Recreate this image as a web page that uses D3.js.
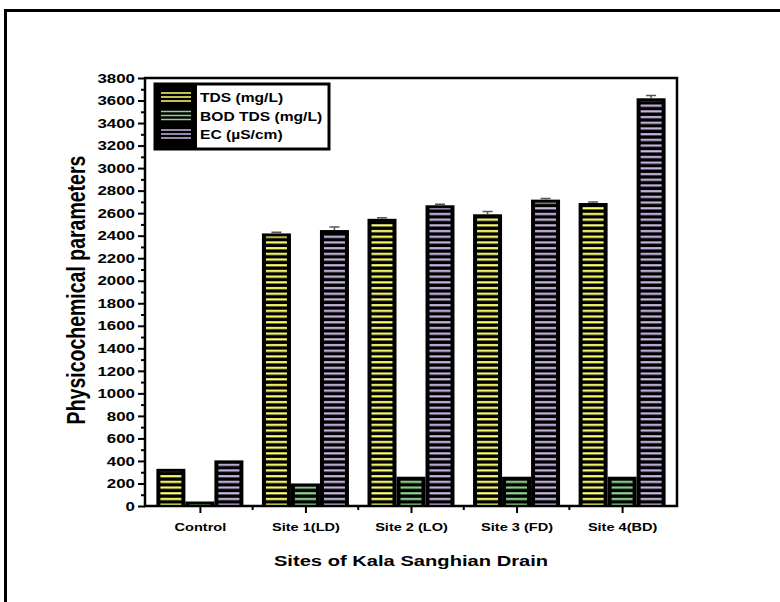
<!DOCTYPE html>
<html>
<head>
<meta charset="utf-8">
<script src="https://cdn.jsdelivr.net/npm/d3@7"></script>
<style>
  body { margin: 0; background: #fff; }
  text { font-family: Arial, "Liberation Sans", sans-serif; font-weight: bold; }
</style>
</head>
<body>
<div id="chart"></div>
<script>
// data
const sites = ["Control", "Site 1(LD)", "Site 2 (LO)", "Site 3 (FD)", "Site 4(BD)"]
const seriesNames = ["TDS (mg/L)", "BOD TDS (mg/L)", "EC (\u00b5S/cm)"]
const tds = [330, 2420, 2550, 2590, 2690]
const bod = [40, 200, 260, 260, 260]
const ec = [405, 2450, 2670, 2720, 3620]
const tdsErr = [0, 10, 10, 25, 10]
const bodErr = [0, 0, 0, 0, 0]
const ecErr = [0, 28, 10, 10, 25]
const yTicks = d3.range(0, 3801, 200)

const colors = ["#ffff70", "#8fd18f", "#c7b6e2"]

const width = 780, height = 602
const margin = { top: 78, right: 103, bottom: 96, left: 145 }
const sx = 1.3 // the figure's text looks stretched sideways

const svg = d3.select("#chart").append("svg")
    .attr("width", width)
    .attr("height", height)

// outer frame of the figure
svg.append("path")
    .attr("d", `M5.5,${height} V10.5 H${width}`)
    .attr("fill", "none")
    .attr("stroke", "#000")
    .attr("stroke-width", 3)

// striped fills: black ground with coloured horizontal lines
const defs = svg.append("defs")
colors.forEach((c, i) => {
    const p = defs.append("pattern")
        .attr("id", "pat" + i)
        .attr("patternUnits", "userSpaceOnUse")
        .attr("width", 8)
        .attr("height", 5.7)
    p.append("rect").attr("width", 8).attr("height", 5.7).attr("fill", "#000")
    p.append("rect").attr("y", 2).attr("width", 8).attr("height", 2.2).attr("fill", c)
})

const x = d3.scalePoint()
    .domain(sites)
    .range([margin.left, width - margin.right])
    .padding(0.52)

const y = d3.scaleLinear()
    .domain([0, 3800])
    .range([height - margin.bottom, margin.top])

const barW = 29
const series = [tds, bod, ec]
const errs = [tdsErr, bodErr, ecErr]

// bars
series.forEach((vals, s) => {
    const rows = vals.map((v, i) => ({ site: sites[i], v: v, e: errs[s][i] }))
    const bx = d => x(d.site) + (s - 1.5) * barW
    const g = svg.append("g")
    g.selectAll("rect.outer")
        .data(rows)
        .enter().append("rect")
        .attr("x", bx)
        .attr("y", d => y(d.v))
        .attr("width", barW)
        .attr("height", d => y(0) - y(d.v))
        .attr("fill", "#000")
    g.selectAll("rect.inner")
        .data(rows)
        .enter().append("rect")
        .attr("x", d => bx(d) + 4)
        .attr("y", d => y(d.v) + 3)
        .attr("width", barW - 8)
        .attr("height", d => Math.max(0, y(0) - y(d.v) - 4))
        .attr("fill", `url(#pat${s})`)

    // error bars
    g.selectAll("path.err")
        .data(rows.filter(d => d.e > 0))
        .enter().append("path")
        .attr("d", d => {
            const cx = bx(d) + barW / 2
            return `M${cx},${y(d.v)} V${y(d.v + d.e)} M${cx - 5},${y(d.v + d.e)} H${cx + 5}`
        })
        .attr("stroke", "#555")
        .attr("stroke-width", 1.5)
        .attr("fill", "none")
})

// plot frame
svg.append("rect")
    .attr("x", margin.left)
    .attr("y", margin.top)
    .attr("width", width - margin.right - margin.left)
    .attr("height", height - margin.bottom - margin.top)
    .attr("fill", "none")
    .attr("stroke", "#000")
    .attr("stroke-width", 2.5)

// y axis
const yAxis = svg.append("g")
    .attr("transform", `translate(${margin.left},0)`)
    .call(d3.axisLeft(y).tickValues(yTicks).tickSize(7).tickSizeOuter(0).tickFormat(d3.format("d")))
yAxis.select(".domain").remove()
yAxis.selectAll("line").attr("stroke-width", 2)
yAxis.selectAll("text")
    .attr("font-size", 13)
    .attr("fill", "#000")
    .attr("x", -10 / sx)
    .attr("transform", `scale(${sx},1)`)

svg.append("g")
    .attr("transform", `translate(${margin.left},0)`)
    .call(d3.axisLeft(y).tickValues(yTicks.slice(0, -1).map(v => v + 100)).tickSize(4).tickFormat(""))
    .call(g => g.select(".domain").remove())
    .selectAll("line").attr("stroke-width", 2)

// x axis
const xAxis = svg.append("g")
    .attr("transform", `translate(0,${height - margin.bottom})`)
    .call(d3.axisBottom(x).tickSize(7).tickSizeOuter(0))
xAxis.select(".domain").remove()
xAxis.selectAll("line").attr("stroke-width", 2)
xAxis.selectAll("text")
    .attr("font-size", 11.2)
    .attr("fill", "#000")
    .attr("dy", "1.3em")
    .attr("transform", `scale(${sx},1)`)

const step = x.step()
const mids = sites.slice(0, -1).map(s => x(s) + step / 2)
svg.append("g").selectAll("line")
    .data(mids)
    .enter().append("line")
    .attr("x1", d => d).attr("x2", d => d)
    .attr("y1", height - margin.bottom).attr("y2", height - margin.bottom + 4)
    .attr("stroke", "#000").attr("stroke-width", 2)

// axis titles
svg.append("text")
    .attr("transform", `translate(85,290) scale(${sx},1) rotate(-90)`)
    .attr("text-anchor", "middle")
    .attr("font-size", 19.5)
    .text("Physicochemical parameters")

svg.append("text")
    .attr("transform", `translate(${(margin.left + width - margin.right) / 2},566) scale(${sx},1)`)
    .attr("text-anchor", "middle")
    .attr("font-size", 15.5)
    .text("Sites of Kala Sanghian Drain")

// legend
const lg = svg.append("g").attr("transform", "translate(155,84)")
lg.append("rect")
    .attr("width", 174).attr("height", 65)
    .attr("fill", "#fff").attr("stroke", "#000").attr("stroke-width", 3)
lg.append("rect")
    .attr("width", 42).attr("height", 65)
    .attr("fill", "#000")
seriesNames.forEach((name, i) => {
    const cy = 13 + i * 18.5
    ;[-4, 0, 4].forEach(o => {
        lg.append("line")
            .attr("x1", 6).attr("x2", 36)
            .attr("y1", cy + o).attr("y2", cy + o)
            .attr("stroke", colors[i]).attr("stroke-width", 1.5)
    })
    lg.append("text")
        .attr("transform", `translate(45,${cy + 5}) scale(${sx},1)`)
        .attr("font-size", 12)
        .text(name)
})
</script>
</body>
</html>
